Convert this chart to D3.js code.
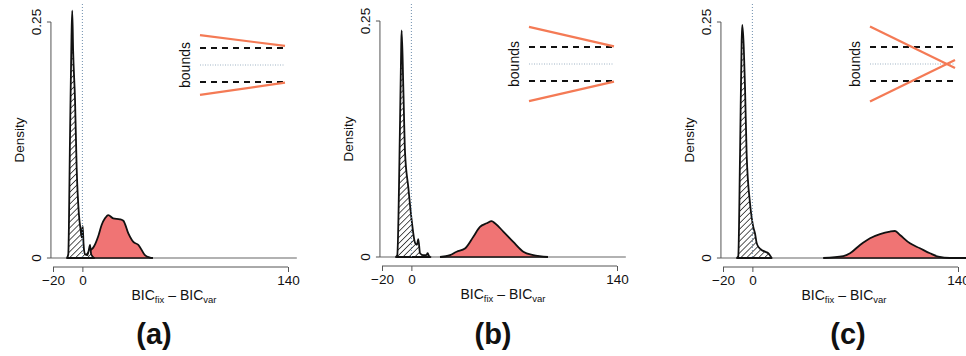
<!DOCTYPE html>
<html>
<head>
<meta charset="utf-8">
<script src="https://cdn.jsdelivr.net/npm/d3@7"></script>
<style>
  body { margin: 0; background: #fff; }
  svg text { font-family: "Liberation Sans", Arial, Helvetica, sans-serif; fill: #111; }
</style>
</head>
<body>
<svg id="chart" width="966" height="356"></svg>
<script>
// density of BIC_fix - BIC_var, fixed-bound model (hatched) and variable-bound model (red)
const xTicks = [-20, 0, 140];
const yTicks = [0, 0.25];
const panelLabels = ["(a)", "(b)", "(c)"];

const hatchA = [[-10.5, 0], [-9.6, 0.004], [-8.4, 0.13], [-7.4, 0.235], [-6.9, 0.262], [-6.3, 0.22], [-5.0, 0.167],
  [-3.9, 0.096], [-2.3, 0.045], [-1.2, 0.03], [-0.5, 0.022], [0.2, 0.034], [0.8, 0.015], [1.8, 0.004],
  [3.5, 0.003], [4.6, 0.01], [5.2, 0.014], [6.0, 0.004], [8, 0]];
const redA = [[0, 0], [2, 0.002], [5.2, 0.008], [7.4, 0.011], [10.8, 0.023], [13.1, 0.035], [15.4, 0.042],
  [17.6, 0.0455], [21, 0.042], [25.6, 0.041], [27.9, 0.0395], [31.3, 0.026], [34.7, 0.017], [38.1, 0.014],
  [42.6, 0.003], [46, 0.0005], [48, 0]];

const hatchB = [[-10.5, 0], [-9.6, 0.002], [-7.7, 0.145], [-6.9, 0.225], [-6.6, 0.24], [-5.5, 0.18], [-4.3, 0.11],
  [-2.1, 0.074], [0.2, 0.039], [2.5, 0.015], [3.8, 0.013], [4.7, 0.019], [5.9, 0.004], [8, 0.002],
  [10.2, 0.002], [11.1, 0.004], [12, 0.001], [13, 0]];
const redB = [[19.5, 0], [26.3, 0.002], [30.8, 0.0056], [36.5, 0.009], [42.2, 0.0215], [46.7, 0.032],
  [51.3, 0.0357], [54.7, 0.038], [56.9, 0.0357], [62.6, 0.027], [69.4, 0.016], [76.2, 0.0056],
  [83, 0.002], [93, 0]];

const hatchC = [[-10.5, 0], [-9.6, 0.002], [-8.4, 0.11], [-7.3, 0.23], [-6.9, 0.247], [-5.0, 0.18], [-3.9, 0.11],
  [-1.6, 0.058], [0.6, 0.033], [1.8, 0.026], [2.9, 0.016], [4.5, 0.011], [6.3, 0.0085], [8.6, 0.0067],
  [10.8, 0.005], [13.1, 0]];
const redC = [[48.3, 0], [61.9, 0.002], [66.5, 0.005], [73.3, 0.0138], [80.1, 0.021], [86.9, 0.0254],
  [93.7, 0.028], [97.1, 0.0286], [100.5, 0.0244], [107.3, 0.0155], [114.1, 0.0103], [120.9, 0.005],
  [126.6, 0.0014], [134.5, 0], [150, 0]];

// inset "bounds" sketches: [start, end] of upper/lower boundary, in units of half the dashed gap
const boundsA = [[0.88, 0.56], [-0.88, -0.52]];
const boundsB = [[1.09, 0.52], [-1.09, -0.52]];
const boundsC = [[1.1, -0.12], [-1.1, 0.12]];
const dashedBounds = [0.5, -0.5];

const hatched = [hatchA, hatchB, hatchC];
const reds = [redA, redB, redC];
const bounds = [boundsA, boundsB, boundsC];

// layout: pixel of x = -20, baseline, and caption position per panel
const layout = [
  { ox: 53, zero: 258, top: 22, cap: 154 },
  { ox: 382, zero: 257, top: 21, cap: 493 },
  { ox: 723, zero: 258, top: 22, cap: 848 }
];

const svg = d3.select("#chart");
const defs = svg.append("defs");
const pat = defs.append("pattern")
  .attr("id", "hatch")
  .attr("patternUnits", "userSpaceOnUse")
  .attr("width", 4.2).attr("height", 4.2)
  .attr("patternTransform", "rotate(45)");
pat.append("rect").attr("width", 4.2).attr("height", 4.2).attr("fill", "#fff");
pat.append("line").attr("x1", 0).attr("y1", 0).attr("x2", 0).attr("y2", 4.2)
  .attr("stroke", "#111").attr("stroke-width", 1.4);

const orange = "#f47a55";
const redFill = "#f07474";

layout.forEach((L, i) => {
  const g = svg.append("g");
  const x = d3.scaleLinear().domain([-20, 140]).range([L.ox, L.ox + 235]);
  const y = d3.scaleLinear().domain([0, 0.25]).range([L.zero, L.top]);

  // plot baseline
  g.append("line")
    .attr("x1", x(-21.4)).attr("x2", x(146))
    .attr("y1", y(0)).attr("y2", y(0))
    .attr("stroke", "#666").attr("stroke-width", 1.2);

  const line = d3.line().x(d => x(d[0])).y(d => y(d[1])).curve(d3.curveMonotoneX);
  const area = d3.area().x(d => x(d[0])).y0(y(0)).y1(d => y(d[1])).curve(d3.curveMonotoneX);

  // red density
  g.append("path").datum(reds[i]).attr("d", area).attr("fill", redFill);
  g.append("path").datum(reds[i]).attr("d", line)
    .attr("fill", "none").attr("stroke", "#111").attr("stroke-width", 1.8).attr("stroke-linejoin", "round");
  g.append("line")
    .attr("x1", x(reds[i][0][0])).attr("x2", x(reds[i][reds[i].length - 1][0]))
    .attr("y1", y(0)).attr("y2", y(0)).attr("stroke", "#111").attr("stroke-width", 1.4);

  // hatched density
  g.append("path").datum(hatched[i]).attr("d", area)
    .attr("fill", "url(#hatch)").attr("stroke", "#111").attr("stroke-width", 1.8).attr("stroke-linejoin", "round");

  // zero reference
  g.append("line")
    .attr("x1", x(0)).attr("x2", x(0)).attr("y1", 4).attr("y2", y(0))
    .attr("stroke", "#6f8fae").attr("stroke-width", 1).attr("stroke-dasharray", "1,2");

  // y axis
  const yAxis = g.append("g").attr("transform", `translate(${x(-21.4)},0)`)
    .call(d3.axisLeft(y).tickValues(yTicks).tickSize(4).tickFormat(d => d === 0 ? "0" : d3.format(".2f")(d)));
  yAxis.select(".domain").attr("stroke", "#555").attr("d", `M0,${y(0.25)}V${y(0)}`);
  yAxis.selectAll(".tick line").attr("stroke", "#555");
  yAxis.selectAll(".tick text")
    .attr("x", 0).attr("dy", 0)
    .attr("transform", d => `translate(-10,${y(d)}) rotate(-90)`)
    .attr("y", 0).attr("text-anchor", "middle")
    .style("font-size", "13.5px").attr("fill", "#111");
  yAxis.selectAll(".tick").attr("transform", null);
  yAxis.selectAll(".tick line").attr("transform", d => `translate(0,${y(d)})`);

  // x axis
  const xAxis = g.append("g").attr("transform", `translate(0,${L.zero + 9})`)
    .call(d3.axisBottom(x).tickValues(xTicks).tickSize(5).tickSizeOuter(0)
      .tickFormat(d => d < 0 ? "\u2212" + Math.abs(d) : String(d)));
  xAxis.select(".domain").attr("stroke", "#555").attr("d", `M${x(-20)},0H${x(140)}`);
  xAxis.selectAll(".tick line").attr("stroke", "#555");
  xAxis.selectAll(".tick text").attr("y", 8).style("font-size", "13.5px").attr("fill", "#111");

  // axis titles
  g.append("text")
    .attr("transform", `translate(${L.ox - 29},${(L.top + L.zero) / 2}) rotate(-90)`)
    .attr("text-anchor", "middle").style("font-size", "13.5px").text("Density");

  const xl = g.append("text")
    .attr("x", L.ox + 121).attr("y", L.zero + 42)
    .attr("text-anchor", "middle").style("font-size", "14px");
  xl.append("tspan").text("BIC");
  xl.append("tspan").attr("dy", 3).style("font-size", "9.5px").text("fix");
  xl.append("tspan").attr("dy", -3).text(" \u2013 BIC");
  xl.append("tspan").attr("dy", 3).style("font-size", "9.5px").text("var");

  g.append("text")
    .attr("x", L.cap).attr("y", 344)
    .attr("text-anchor", "middle").style("font-size", "29px").style("font-weight", "bold")
    .text(panelLabels[i]);

  // inset sketch of the decision bounds
  const cy = i === 0 ? 65 : 64;
  const bx = d3.scaleLinear().domain([0, 1]).range([L.ox + 147, L.ox + 232]);
  const by = d3.scaleLinear().domain([-1, 1]).range([cy + 34, cy - 34]);
  g.append("text")
    .attr("transform", `translate(${L.ox + 137},${cy}) rotate(-90)`)
    .attr("text-anchor", "middle").style("font-size", "14px").text("bounds");
  g.append("line")
    .attr("x1", bx(0)).attr("x2", bx(1)).attr("y1", by(0)).attr("y2", by(0))
    .attr("stroke", "#9fb3c4").attr("stroke-width", 1).attr("stroke-dasharray", "1,1.5");
  g.selectAll(".dash").data(dashedBounds).join("line")
    .attr("x1", bx(0)).attr("x2", bx(1)).attr("y1", d => by(d)).attr("y2", d => by(d))
    .attr("stroke", "#111").attr("stroke-width", 2).attr("stroke-dasharray", "6,5");
  g.selectAll(".bnd").data(bounds[i]).join("line")
    .attr("x1", bx(0)).attr("x2", bx(1)).attr("y1", d => by(d[0])).attr("y2", d => by(d[1]))
    .attr("stroke", orange).attr("stroke-width", 2.2);
});
</script>
</body>
</html>
